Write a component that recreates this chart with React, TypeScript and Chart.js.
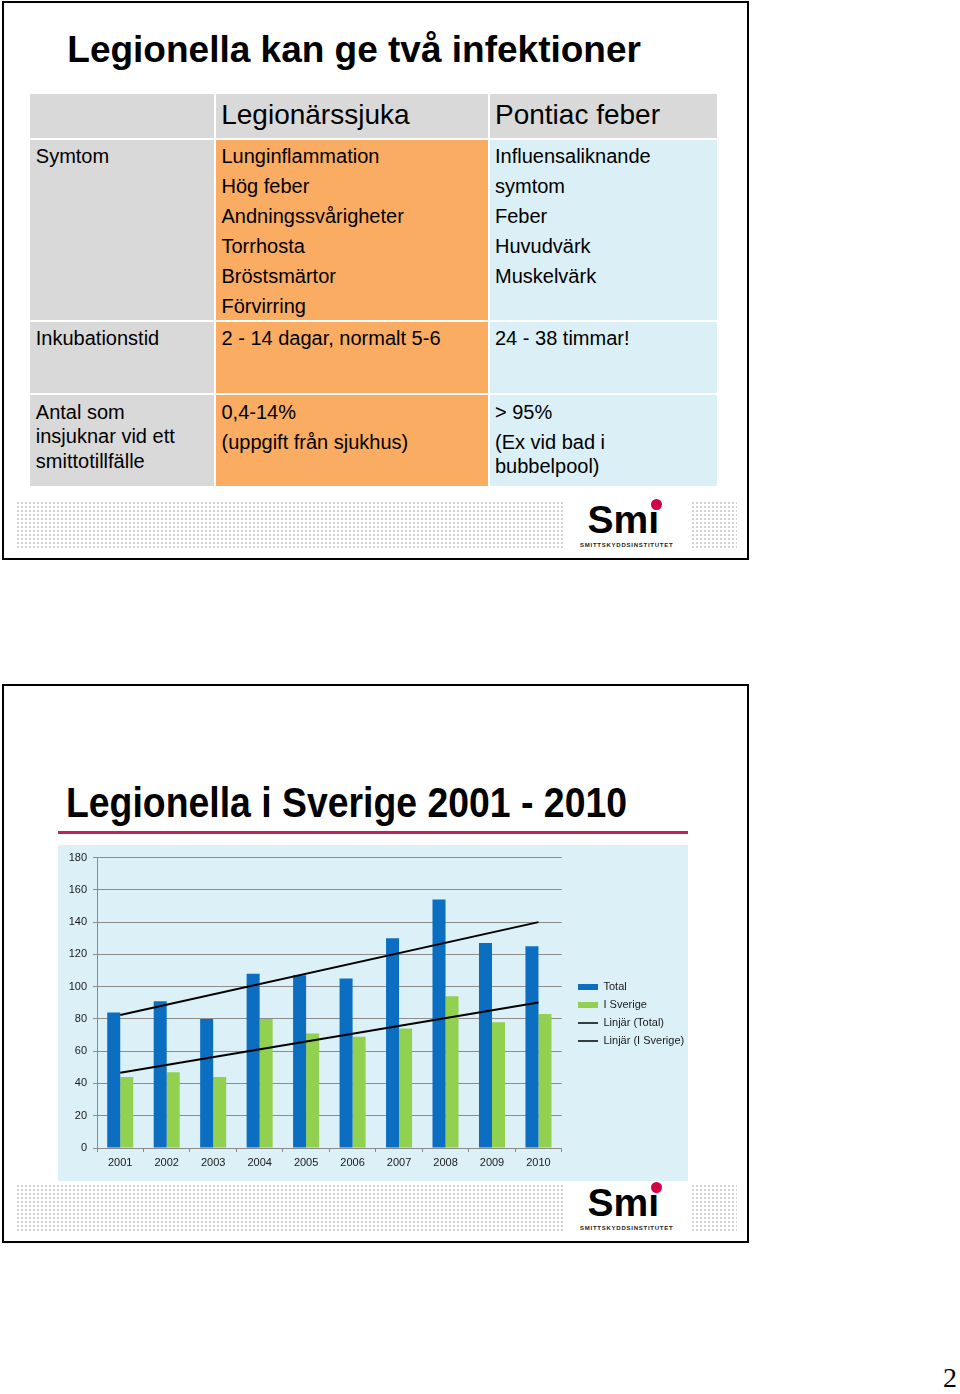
import React, { useEffect, useRef } from "react";
import { Chart, registerables } from "chart.js";

Chart.register(...registerables);

// ---------- Data ----------
const years = ["2001", "2002", "2003", "2004", "2005", "2006", "2007", "2008", "2009", "2010"];
const totalCases = [84, 91, 80, 108, 107, 105, 130, 154, 127, 125];
const swedenCases = [44, 47, 44, 80, 71, 69, 74, 94, 78, 83];
const totalTrend = [82.5, null, null, null, null, null, null, null, null, 140];
const swedenTrend = [46.6, null, null, null, null, null, null, null, null, 90.2];
const seriesNames = ["Total", "I Sverige", "Linjär (Total)", "Linjär (I Sverige)"];
const yMin = 0;
const yMax = 180;
const yStep = 20;

const slide1Title = "Legionella kan ge två infektioner";
const slide2Title = "Legionella i Sverige 2001 - 2010";
const headerLabels = ["Legionärssjuka", "Pontiac feber"];
const symtomCol1 = ["Symtom"];
const symtomCol2 = ["Lunginflammation", "Hög feber", "Andningssvårigheter", "Torrhosta", "Bröstsmärtor", "Förvirring"];
const symtomCol3 = ["Influensaliknande", "symtom", "Feber", "Huvudvärk", "Muskelvärk"];
const inkubationRow = ["Inkubationstid", "2 - 14 dagar, normalt 5-6", "24 - 38 timmar!"];
const antalCol1 = ["Antal som", "insjuknar vid ett", "smittotillfälle"];
const antalCol2 = ["0,4-14%", "(uppgift från sjukhus)"];
const antalCol3 = ["> 95%", "(Ex vid bad i", "bubbelpool)"];
const logoText = "Sm";
const logoSub = "SMITTSKYDDSINSTITUTET";
const pageNumber = "2";

// ---------- Styling ----------
const SANS = '"Liberation Sans", Arial, Helvetica, sans-serif';
const SERIF = '"Liberation Serif", "Times New Roman", serif';
const GRAY = "#D9D9D9";
const ORANGE = "#FAAC62";
const LIGHTBLUE = "#DAEFF6";
const CHART_BG = "#DBF0F7";
const BLUE = "#0B6EC1";
const GREEN = "#92D050";
const RED = "#D40045";

Chart.defaults.font.family = SANS;

type TxtProps = {
  x: number;
  base: number;
  size: number;
  lh?: number;
  bold?: boolean;
  family?: string;
  color?: string;
  scaleX?: number;
  spacing?: number;
  children: React.ReactNode;
};

function Txt({ x, base, size, lh, bold = false, family = SANS, color = "#000", scaleX = 1, spacing = 0, children }: TxtProps) {
  const L = lh ?? size;
  const baseOffset = (L - 1.117 * size) / 2 + 0.905 * size;
  return (
    <div
      style={{
        position: "absolute",
        left: x,
        top: base - baseOffset,
        fontSize: size,
        lineHeight: `${L}px`,
        height: L,
        fontWeight: bold ? 700 : 400,
        fontFamily: family,
        color,
        whiteSpace: "nowrap",
        letterSpacing: spacing,
        transform: scaleX !== 1 ? `scaleX(${scaleX})` : undefined,
        transformOrigin: "0 0",
      }}
    >
      {children}
    </div>
  );
}

function Box({ x, y, w, h, bg }: { x: number; y: number; w: number; h: number; bg: string }) {
  return <div style={{ position: "absolute", left: x, top: y, width: w, height: h, background: bg }} />;
}

function Dots({ x, y, w, h }: { x: number; y: number; w: number; h: number }) {
  return (
    <div
      style={{
        position: "absolute",
        left: x,
        top: y,
        width: w,
        height: h,
        backgroundColor: "#D2D2D2",
        backgroundImage:
          "linear-gradient(to right, #fff 2px, transparent 2px), linear-gradient(to bottom, #fff 2px, transparent 2px)",
        backgroundSize: "4px 4px",
      }}
    />
  );
}

function Logo({ top }: { top: number }) {
  return (
    <>
      <Dots x={15} y={top + 499} w={548} h={50} />
      <Dots x={690} y={top + 499} w={47} h={50} />
      <Txt x={587.5} base={top + 532} size={39} bold>
        {logoText}
        {"\u0131"}
      </Txt>
      <div
        style={{
          position: "absolute",
          left: 656.7 - 5.5,
          top: top + 503 - 5.5,
          width: 11,
          height: 11,
          borderRadius: "50%",
          background: RED,
        }}
      />
      <Txt x={580} base={top + 546.5} size={6} bold spacing={0.75} color="#222">
        {logoSub}
      </Txt>
    </>
  );
}

function Slide({ top }: { top: number }) {
  return (
    <div
      style={{
        position: "absolute",
        left: 2,
        top,
        width: 747,
        height: 559,
        border: "2px solid #000",
        boxSizing: "border-box",
      }}
    />
  );
}

function LegionellaChart() {
  const ref = useRef<HTMLCanvasElement>(null);
  useEffect(() => {
    const canvas = ref.current;
    if (!canvas) return;
    const font = { family: SANS, size: 11 };
    const LEGEND_W = 126.3;
    const LEGEND_DX = 9.3;
    const LEGEND_DY = -4.5;
    const placer = {
      id: "legendPlacer",
      beforeLayout(chart: any) {
        const lg = chart.legend;
        if (lg && !lg.__patched) {
          const orig = lg.fit.bind(lg);
          lg.fit = function () {
            orig();
            this.width = LEGEND_W;
          };
          lg.__patched = true;
        }
      },
      afterLayout(chart: any) {
        const lg = chart.legend;
        if (!lg) return;
        lg.left += LEGEND_DX;
        lg.right += LEGEND_DX;
        lg.top += LEGEND_DY;
        lg.bottom += LEGEND_DY;
      },
    };
    const chart = new Chart(canvas, {
      type: "bar",
      data: {
        labels: years,
        datasets: [
          {
            type: "bar",
            label: seriesNames[0],
            data: totalCases,
            backgroundColor: BLUE,
            categoryPercentage: 0.56,
            barPercentage: 1,
            order: 2,
          },
          {
            type: "bar",
            label: seriesNames[1],
            data: swedenCases,
            backgroundColor: GREEN,
            categoryPercentage: 0.56,
            barPercentage: 1,
            order: 2,
          },
          {
            type: "line",
            label: seriesNames[2],
            data: totalTrend,
            borderColor: "#000",
            backgroundColor: "#000",
            borderWidth: 2,
            pointRadius: 0,
            spanGaps: true,
            fill: false,
            order: 1,
          },
          {
            type: "line",
            label: seriesNames[3],
            data: swedenTrend,
            borderColor: "#000",
            backgroundColor: "#000",
            borderWidth: 2,
            pointRadius: 0,
            spanGaps: true,
            fill: false,
            order: 1,
          },
        ] as any,
      },
      options: {
        animation: false,
        responsive: false,
        maintainAspectRatio: false,
        devicePixelRatio: 1,
        layout: { padding: { top: 11, left: 0, right: 0, bottom: 0 } },
        scales: {
          x: {
            grid: {
              display: true,
              drawOnChartArea: false,
              drawTicks: true,
              tickLength: 4,
              color: "#8A8A8A",
              offset: true,
            },
            border: { color: "#8A8A8A", width: 1 },
            ticks: { color: "#1A1A1A", font, padding: 4, maxRotation: 0, autoSkip: false },
            afterFit: (s: any) => {
              s.height = 33;
            },
          },
          y: {
            min: yMin,
            max: yMax,
            ticks: { stepSize: yStep, color: "#1A1A1A", font, padding: 6 },
            grid: { color: "#8C8C8C", tickLength: 4, lineWidth: 1 },
            border: { color: "#8A8A8A", width: 1 },
            afterFit: (s: any) => {
              s.width = 39;
            },
          },
        },
        plugins: {
          tooltip: { enabled: false },
          legend: {
            display: true,
            position: "right",
            align: "center",
            labels: {
              usePointStyle: true,
              pointStyleWidth: 20,
              boxHeight: 6,
              padding: 7,
              color: "#1A1A1A",
              font,
              generateLabels: (ch: any) =>
                ch.data.datasets.map((ds: any, i: number) => {
                  const isLine = ds.type === "line";
                  return {
                    text: ds.label,
                    fillStyle: isLine ? "#000" : ds.backgroundColor,
                    strokeStyle: isLine ? "#000" : ds.backgroundColor,
                    lineWidth: isLine ? 1.5 : 0,
                    pointStyle: isLine ? "line" : "rect",
                    hidden: false,
                    datasetIndex: i,
                    fontColor: "#1A1A1A",
                  };
                }),
            },
          },
        },
      } as any,
      plugins: [placer],
    });
    return () => chart.destroy();
  }, []);
  return <canvas ref={ref} width={630} height={336} style={{ display: "block", width: 630, height: 336 }} />;
}

export default function App() {
  const col1X = 35.8;
  const col2X = 221.5;
  const col3X = 495;
  return (
    <div
      style={{
        position: "absolute",
        left: 0,
        top: 0,
        width: 960,
        height: 1394,
        overflow: "hidden",
        background: "#fff",
        fontFamily: SANS,
      }}
    >
      {/* ---------- Slide 1 ---------- */}
      <Slide top={1} />
      <Txt x={67.3} base={62} size={37} bold>
        {slide1Title}
      </Txt>

      {/* table backgrounds */}
      <Box x={30} y={94} w={184} h={44} bg={GRAY} />
      <Box x={216} y={94} w={272} h={44} bg={GRAY} />
      <Box x={490} y={94} w={227} h={44} bg={GRAY} />

      <Box x={30} y={140} w={184} h={180} bg={GRAY} />
      <Box x={216} y={140} w={272} h={180} bg={ORANGE} />
      <Box x={490} y={140} w={227} h={180} bg={LIGHTBLUE} />

      <Box x={30} y={322} w={184} h={71} bg={GRAY} />
      <Box x={216} y={322} w={272} h={71} bg={ORANGE} />
      <Box x={490} y={322} w={227} h={71} bg={LIGHTBLUE} />

      <Box x={30} y={395} w={184} h={91} bg={GRAY} />
      <Box x={216} y={395} w={272} h={91} bg={ORANGE} />
      <Box x={490} y={395} w={227} h={91} bg={LIGHTBLUE} />

      {/* header */}
      <Txt x={col2X - 0.3} base={124.5} size={28}>
        {headerLabels[0]}
      </Txt>
      <Txt x={col3X} base={124.5} size={28}>
        {headerLabels[1]}
      </Txt>

      {/* Symtom row */}
      {symtomCol1.map((t, i) => (
        <Txt key={"s1" + i} x={col1X} base={163.3 + 30 * i} size={20}>
          {t}
        </Txt>
      ))}
      {symtomCol2.map((t, i) => (
        <Txt key={"s2" + i} x={col2X} base={163.3 + 30 * i} size={20}>
          {t}
        </Txt>
      ))}
      {symtomCol3.map((t, i) => (
        <Txt key={"s3" + i} x={col3X} base={163.3 + 30 * i} size={20}>
          {t}
        </Txt>
      ))}

      {/* Inkubation row */}
      <Txt x={col1X} base={345} size={20}>
        {inkubationRow[0]}
      </Txt>
      <Txt x={col2X} base={345} size={20}>
        {inkubationRow[1]}
      </Txt>
      <Txt x={col3X} base={345} size={20}>
        {inkubationRow[2]}
      </Txt>

      {/* Antal row */}
      {antalCol1.map((t, i) => (
        <Txt key={"a1" + i} x={col1X} base={418.5 + 24.5 * i} size={20}>
          {t}
        </Txt>
      ))}
      {antalCol2.map((t, i) => (
        <Txt key={"a2" + i} x={col2X} base={418.5 + 30 * i} size={20}>
          {t}
        </Txt>
      ))}
      {antalCol3.map((t, i) => (
        <Txt key={"a3" + i} x={col3X} base={[418.5, 448.5, 473][i]} size={20}>
          {t}
        </Txt>
      ))}

      <Logo top={1} />

      {/* ---------- Slide 2 ---------- */}
      <Slide top={684} />
      <Txt x={65.5} base={818} size={42} bold scaleX={0.89}>
        {slide2Title}
      </Txt>
      <Box x={58} y={830.5} w={630} h={3} bg="#C02456" />

      <div style={{ position: "absolute", left: 58, top: 845, width: 630, height: 336, background: CHART_BG }}>
        <LegionellaChart />
      </div>

      <Logo top={684} />

      {/* page number */}
      <Txt x={943} base={1387.5} size={28} family={SERIF}>
        {pageNumber}
      </Txt>
    </div>
  );
}
